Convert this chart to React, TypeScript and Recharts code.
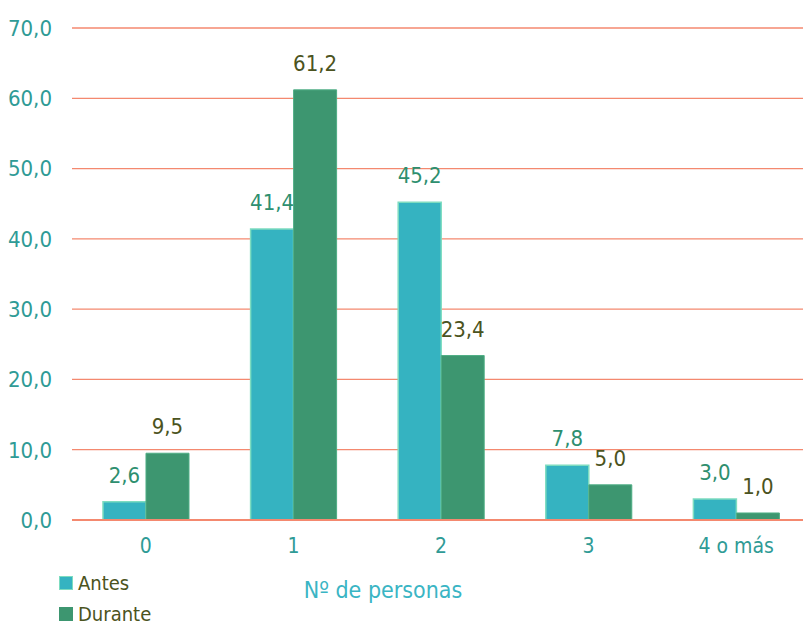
import React from 'react';
import { BarChart, Bar, XAxis, YAxis, CartesianGrid, LabelList, Legend } from 'recharts';

const categories = ['0', '1', '2', '3', '4 o más'];
const antes = [2.6, 41.4, 45.2, 7.8, 3.0];
const durante = [9.5, 61.2, 23.4, 5.0, 1.0];
const yTicks = [0, 10, 20, 30, 40, 50, 60, 70];

const data = categories.map((c, i) => ({ cat: c, antes: antes[i], durante: durante[i] }));

const FONT = '"DejaVu Sans Condensed", "Liberation Sans Narrow", sans-serif';
const fmt = (v: any) => Number(v).toFixed(1).replace('.', ',');

const ANTES_FILL = '#35b3c1';
const ANTES_STROKE = '#7ddcc0';
const DURANTE_FILL = '#3d9670';
const DURANTE_STROKE = '#4fae85';
const GRID = '#f4896f';

const LegendContent = () => (
  <div style={{ fontFamily: FONT, fontSize: 20, color: '#4b5320', lineHeight: '16px' }}>
    {[
      { name: 'Antes', fill: ANTES_FILL, stroke: ANTES_STROKE },
      { name: 'Durante', fill: DURANTE_FILL, stroke: DURANTE_FILL },
    ].map((it, i) => (
      <div key={it.name} style={{ display: 'flex', alignItems: 'center', height: 16, marginBottom: i === 0 ? 15 : 0 }}>
        <span
          style={{
            display: 'inline-block',
            width: 12,
            height: 12,
            background: it.fill,
            border: `1.5px solid ${it.stroke}`,
            marginRight: 5,
          }}
        />
        <span>{it.name}</span>
      </div>
    ))}
  </div>
);

const AxisTitle = (props: any) => {
  const vb = props.viewBox || {};
  return (
    <text
      x={383}
      y={(vb.y || 520) + 78}
      textAnchor="middle"
      fontFamily={FONT}
      fontSize={23}
      fill="#3ab5c4"
    >
      Nº de personas
    </text>
  );
};

export default function App() {
  return (
    <div style={{ position: 'fixed', left: 0, top: 0, width: 803, height: 628, overflow: 'hidden', background: '#fff' }}>
      <BarChart
        width={810}
        height={628}
        data={data}
        margin={{ top: 28, right: 0, bottom: 68, left: 0 }}
        barCategoryGap="21%"
        barGap={0}
      >
        <CartesianGrid horizontal vertical={false} stroke={GRID} strokeWidth={1.3} />
        <XAxis
          dataKey="cat"
          height={40}
          axisLine={{ stroke: GRID, strokeWidth: 2 }}
          tickLine={false}
          tick={{ fill: '#2f9b96', fontFamily: FONT, fontSize: 21 }}
          tickMargin={12}
          label={<AxisTitle />}
        />
        <YAxis
          width={72}
          domain={[0, 70]}
          ticks={yTicks}
          axisLine={false}
          tickLine={false}
          tickMargin={14}
          tickFormatter={fmt}
          tick={{ fill: '#2f9b96', fontFamily: FONT, fontSize: 22 }}
        />
        <Legend
          layout="horizontal"
          verticalAlign="middle"
          align="center"
          content={<LegendContent />}
          wrapperStyle={{ position: 'absolute', left: 59, top: 575, width: 150, height: 47 }}
        />
        <Bar dataKey="antes" name="Antes" fill={ANTES_FILL} stroke={ANTES_STROKE} strokeWidth={1.5} isAnimationActive={false}>
          <LabelList dataKey="antes" position="top" offset={19} formatter={fmt} fill="#2e8f6f" fontFamily={FONT} fontSize={22} />
        </Bar>
        <Bar dataKey="durante" name="Durante" fill={DURANTE_FILL} stroke={DURANTE_STROKE} strokeWidth={1} isAnimationActive={false}>
          <LabelList dataKey="durante" position="top" offset={19} formatter={fmt} fill="#4b5320" fontFamily={FONT} fontSize={22} />
        </Bar>
      </BarChart>
    </div>
  );
}
